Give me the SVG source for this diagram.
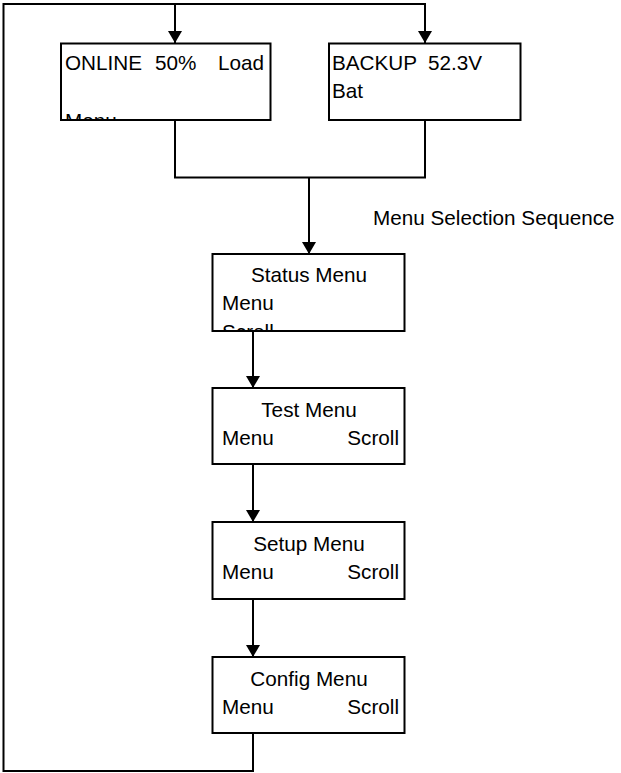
<svg xmlns="http://www.w3.org/2000/svg" width="621" height="773" viewBox="0 0 621 773">
<style>
.box{fill:#fff;stroke:#000;stroke-width:2}
.ln{fill:none;stroke:#000;stroke-width:2}
text{font-family:"Liberation Sans",Arial,sans-serif;font-size:20.7px;fill:#000}
.c{text-anchor:middle}
.r{text-anchor:end}
</style>
<defs>
<marker id="ah" viewBox="0 0 12 14" markerWidth="12" markerHeight="14" refX="12" refY="7" orient="auto" markerUnits="userSpaceOnUse">
<path d="M0,0 L12,7 L0,14 Z" fill="#000"/>
</marker>
<clipPath id="cpOnline"><rect x="61" y="44" width="209" height="75"/></clipPath>
<clipPath id="cpStatus"><rect x="213" y="255" width="191" height="75"/></clipPath>
</defs>
<rect width="621" height="773" fill="#fff"/>
<g id="connectors">
<path class="ln" d="M253,733 V771 H3.5 V4 H425 V43" marker-end="url(#ah)"/>
<path class="ln" d="M175,4 V43" marker-end="url(#ah)"/>
<path class="ln" d="M175,120 V177.5 H425 V120"/>
<path class="ln" d="M309,177.5 V254" marker-end="url(#ah)"/>
<path class="ln" d="M253,331 V388" marker-end="url(#ah)"/>
<path class="ln" d="M253,464 V522" marker-end="url(#ah)"/>
<path class="ln" d="M253,599 V657" marker-end="url(#ah)"/>
</g>
<g id="online">
<rect class="box" x="61" y="43.5" width="209.5" height="76.5"/>
<g clip-path="url(#cpOnline)">
<text x="65" y="70">ONLINE</text>
<text x="155" y="70">50%</text>
<text x="218" y="70">Load</text>
<text x="65" y="128">Menu</text>
</g>
</g>
<g id="backup">
<rect class="box" x="329" y="43.5" width="191.5" height="76.5"/>
<text x="332" y="70">BACKUP</text>
<text x="428" y="70">52.3V</text>
<text x="332" y="98">Bat</text>
</g>
<text x="373" y="225">Menu Selection Sequence</text>
<g id="status">
<rect class="box" x="212.5" y="254" width="192" height="77"/>
<g clip-path="url(#cpStatus)">
<text class="c" x="309" y="282">Status Menu</text>
<text x="222" y="310">Menu</text>
<text x="222" y="339">Scroll</text>
</g>
</g>
<g id="test">
<rect class="box" x="212.5" y="388" width="192" height="76"/>
<text class="c" x="309" y="417">Test Menu</text>
<text x="222" y="445">Menu</text>
<text class="r" x="399" y="445">Scroll</text>
</g>
<g id="setup">
<rect class="box" x="212.5" y="522" width="192" height="77"/>
<text class="c" x="309" y="551">Setup Menu</text>
<text x="222" y="579">Menu</text>
<text class="r" x="399" y="579">Scroll</text>
</g>
<g id="config">
<rect class="box" x="212.5" y="657" width="192" height="76"/>
<text class="c" x="309" y="686">Config Menu</text>
<text x="222" y="714">Menu</text>
<text class="r" x="399" y="714">Scroll</text>
</g>
</svg>
